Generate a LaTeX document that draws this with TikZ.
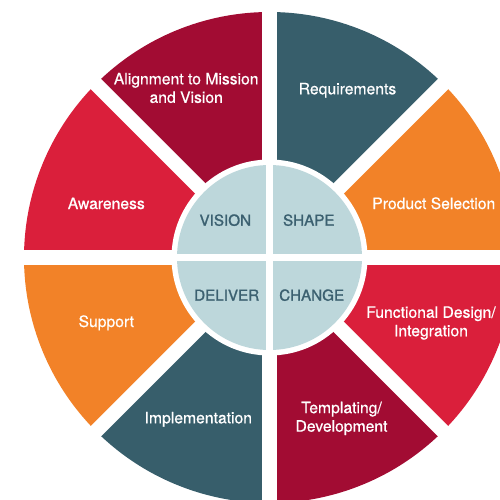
\documentclass[tikz,border=0pt]{standalone}
\usepackage{fontspec}
\setmainfont{TeX Gyre Heros}
\newfontfamily\segfont{TeX Gyre Heros}[FakeBold=0.5]
\newfontfamily\hubfont{TeX Gyre Heros}[FakeBold=1.3]
\definecolor{wineRed}{HTML}{A20C33}
\definecolor{brightRed}{HTML}{DA1F3B}
\definecolor{slateTeal}{HTML}{375E6B}
\definecolor{warmOrange}{HTML}{F28228}
\definecolor{hubBlue}{HTML}{BDD7DB}
\definecolor{hubText}{HTML}{3B6070}
\begin{document}
\begin{tikzpicture}[x=1pt,y=1pt,
    seglabel/.style={text=white, align=center, inner sep=0pt, font=\segfont\fontsize{15.7}{18.5}\selectfont},
    hublabel/.style={text=hubText, inner sep=0pt, anchor=base, font=\hubfont\fontsize{15.2}{18}\selectfont},
    gapline/.style={white, line width=14.5pt}]

        % Fix the page to the picture size
        \useasboundingbox (-269.5,-241.5) rectangle (230.5,257.5);
        \clip (-269.5,-241.5) rectangle (230.5,257.5);

        % Draw the eight outer wedges
        \foreach \a/\col in {45/slateTeal, 0/warmOrange, -45/brightRed, -90/wineRed,
                             -135/slateTeal, 180/warmOrange, 135/brightRed, 90/wineRed}
            \fill[\col] (0,0) -- (\a:245.5) arc[start angle=\a, end angle=\a+45, radius=245.5] -- cycle;

        % Cut the gaps between the wedges
        \foreach \a in {0, 45, 90, 135}
            \draw[gapline] (\a:260) -- (\a+180:260);

        % Draw the hub
        \fill[white] (0,0) circle[radius=98];
        \fill[hubBlue] (0,0) circle[radius=92.5];
        \draw[white, line width=6.5pt] (-95,0) -- (95,0);
        \draw[white, line width=6.5pt] (0,-95) -- (0,95);

        % Label the hub quarters
        \node[hublabel] (vision) at (-44.2,31.8) {VISION};
        \node[hublabel] (shape) at (39.3,31.8) {SHAPE};
        \node[hublabel] (deliver) at (-42.8,-43.2) {DELIVER};
        \node[hublabel] (change) at (42.2,-43.2) {CHANGE};

        % Label the wedges
        \node[seglabel, anchor=base] (req) at (78,163.2) {Requirements};
        \node[seglabel, anchor=base] (prodsel) at (164.3,48.5) {Product Selection};
        \node[seglabel] (funcdes) at (161.5,-65.5) {Functional Design/\\Integration};
        \node[seglabel] (templ) at (72,-160.9) {Templating/\\Development};
        \node[seglabel, anchor=base] (impl) at (-71.2,-165.8) {Implementation};
        \node[seglabel, anchor=base] (support) at (-163.2,-69.5) {Support};
        \node[seglabel, anchor=base] (aware) at (-163.2,48.5) {Awareness};
        \node[seglabel] (align) at (-83.3,169.5) {Alignment to Mission\\and Vision};
    \end{tikzpicture}
\end{document}
